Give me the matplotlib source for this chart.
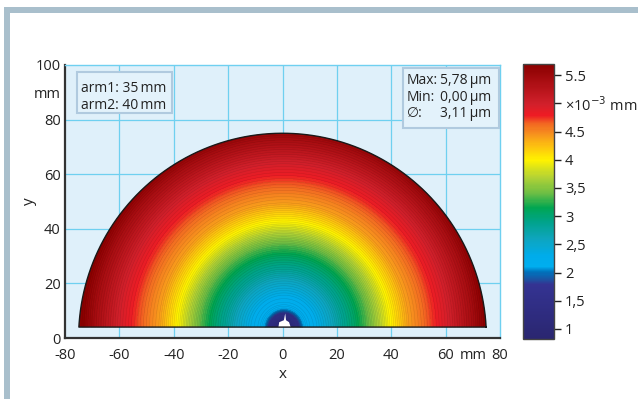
import numpy as np
import matplotlib
matplotlib.use("Agg")
import matplotlib.pyplot as plt
from matplotlib.colors import LinearSegmentedColormap, Normalize
from matplotlib.patches import Polygon, Rectangle

plt.rcParams['font.family'] = ['Open Sans', 'DejaVu Sans']

# ---- data ----
radius_mm = [0, 3, 5, 6, 7, 9, 12, 15, 18, 22, 26, 30, 34, 38, 42, 46, 50, 55, 60, 65, 70, 75]
deviation_um = [0.9, 1.3, 1.6, 1.8, 2.05, 2.2, 2.3, 2.45, 2.6, 2.85, 3.05, 3.3, 3.6, 3.9,
                4.15, 4.4, 4.55, 4.75, 4.95, 5.2, 5.45, 5.75]
arm1, arm2 = 35, 40
stat_labels = ["Max:", "Min:", "\u2205:"]
stat_values = ["5,78\u2009\u00b5m", "0,00\u2009\u00b5m", "3,11\u2009\u00b5m"]
x_ticks = [-80, -60, -40, -20, 0, 20, 40, 60, 70, 80]
x_ticklabels = ["-80", "-60", "-40", "-20", "0", "20", "40", "60", "mm", "80"]
y_ticks = [0, 20, 40, 60, 80, 90, 100]
y_ticklabels = ["0", "20", "40", "60", "80", "mm", "100"]
cb_ticks = [1, 1.5, 2, 2.5, 3, 3.5, 4, 4.5, 5, 5.5]
cb_ticklabels = ["1", "1,5", "2", "2,5", "3", "3,5", "4", "4.5", "\u00d710$^{-3}$ mm", "5.5"]

# colormap anchors (value, colour)
cmap_vals = [0.82, 1.78, 1.86, 2.0, 2.1, 2.3, 2.6, 2.9, 3.15, 3.4, 3.7, 4.0, 4.25, 4.45, 4.65, 4.8, 5.0, 5.3, 5.7]
cmap_cols = ["#2a2670", "#343392", "#1f4fa0", "#0072bc", "#00aeef", "#00acea", "#0ea5bd", "#00a38a",
             "#00a651", "#6abd45", "#b5d334", "#fff200", "#fdc010", "#f7941d", "#f26522", "#ed1c24",
             "#d1202b", "#b31218", "#8b0000"]
vmin, vmax = 0.82, 5.7

# ---- figure ----
W, H = 638, 399
fig = plt.figure(figsize=(W / 100, H / 100), dpi=100)
fig.patch.set_facecolor("white")
frame_col = "#a9bfcc"
fig.patches.append(Rectangle((4 / W, 0), 6 / W, (H - 13) / H, transform=fig.transFigure,
                             facecolor=frame_col, edgecolor="none"))
fig.patches.append(Rectangle((4 / W, (H - 13) / H), 1 - 4 / W, 6 / H, transform=fig.transFigure,
                             facecolor=frame_col, edgecolor="none"))

ax = fig.add_axes([65 / W, (H - 338) / H, 435 / W, 273 / H])
ax.set_facecolor("#dff0fa")
ax.set_xlim(-80, 80)
ax.set_ylim(0, 100)

grid_col = "#6fd0f0"
for gx in [-60, -40, -20, 0, 20, 40, 60]:
    ax.axvline(gx, color=grid_col, lw=0.9, zorder=0.5)
for gy in [20, 40, 60, 80]:
    ax.axhline(gy, color=grid_col, lw=0.9, zorder=0.5)

cmap = LinearSegmentedColormap.from_list(
    "dev", [((v - vmin) / (vmax - vmin), c) for v, c in zip(cmap_vals, cmap_cols)])
norm = Normalize(vmin, vmax)

xs = np.linspace(-77, 77, 720)
ys = np.linspace(3, 77, 360)
X, Y = np.meshgrid(xs, ys)
R = np.hypot(X - 0.5, Y - 3.5)
Z = np.interp(R, radius_mm, deviation_um)

R_out = arm1 + arm2
y_base = 4
th0 = np.arcsin(y_base / R_out)
th = np.linspace(th0, np.pi - th0, 300)
outline = np.column_stack([R_out * np.cos(th), R_out * np.sin(th)])
clip = Polygon(outline, closed=True, transform=ax.transData, facecolor="none", edgecolor="none")
ax.add_patch(clip)

cf = ax.contourf(X, Y, Z, levels=np.linspace(vmin, vmax, 200), cmap=cmap, norm=norm,
                 extend="both", zorder=1)
cf.set_clip_path(clip)
cl = ax.contour(X, Y, Z, levels=np.linspace(1.0, 5.75, 110), colors="k", linewidths=0.35,
                alpha=0.13, zorder=1.2)
cl.set_clip_path(clip)

# white notch at the centre
notch = Polygon([(-1.5, y_base), (-1.2, 5.8), (0.5, 6.5), (1.0, 9.0), (1.3, 6.5),
                 (2.4, 5.8), (3.0, y_base)], closed=True, facecolor="white",
                edgecolor="none", zorder=1.5)
ax.add_patch(notch)

ax.plot(np.append(outline[:, 0], outline[0, 0]), np.append(outline[:, 1], outline[0, 1]),
        color="#1a1a1a", lw=1.0, zorder=2)

# axes styling
for s in ["top", "right"]:
    ax.spines[s].set_color(grid_col)
    ax.spines[s].set_linewidth(1.0)
for s in ["left", "bottom"]:
    ax.spines[s].set_color("#333333")
    ax.spines[s].set_linewidth(1.6)
ax.set_xticks(x_ticks)
ax.set_xticklabels(x_ticklabels)
ax.set_yticks(y_ticks)
ax.set_yticklabels(y_ticklabels)
ax.tick_params(axis="y", length=0, labelsize=10.5, colors="#222222", pad=3)
ax.tick_params(axis="x", length=0, labelsize=10.5, colors="#222222", pad=7)
ax.set_xlabel("x", fontsize=11, color="#222222", labelpad=3)
ax.set_ylabel("y", fontsize=11, color="#222222", labelpad=-2)

# info boxes
def box(x0, y0, w, h):
    p = Rectangle((x0, y0), w, h, transform=ax.transAxes, facecolor="#e3f2fb",
                  edgecolor="#b0cadf", lw=1.5, zorder=3)
    ax.add_patch(p)

box(12 / 435, 1 - 48 / 273, 95 / 435, 41 / 273)
ax.text(16 / 435, 1 - 16 / 273, f"arm1: {arm1}\u2009mm\narm2: {arm2}\u2009mm",
        transform=ax.transAxes, fontsize=10, va="top", ha="left", color="#222222",
        linespacing=1.15, zorder=4)

box(338 / 435, 1 - 63 / 273, 96 / 435, 60 / 273)
ax.text(342 / 435, 1 - 8 / 273, "\n".join(stat_labels), transform=ax.transAxes, fontsize=10,
        va="top", ha="left", color="#222222", linespacing=1.15, zorder=4)
ax.text(426 / 435, 1 - 8 / 273, "\n".join(stat_values), transform=ax.transAxes, fontsize=10,
        va="top", ha="right", color="#222222", linespacing=1.15, zorder=4)

# colorbar
cax = fig.add_axes([523 / W, (H - 339) / H, 31 / W, 275 / H])
sm = matplotlib.cm.ScalarMappable(norm=norm, cmap=cmap)
cb = fig.colorbar(sm, cax=cax)
cb.set_ticks(cb_ticks)
cb.set_ticklabels(cb_ticklabels)
cb.ax.tick_params(labelsize=10.5, colors="#222222", length=5, width=1, pad=3)
cb.outline.set_edgecolor("#444444")
cb.outline.set_linewidth(1.0)

fig.savefig("out.png", dpi=100)
